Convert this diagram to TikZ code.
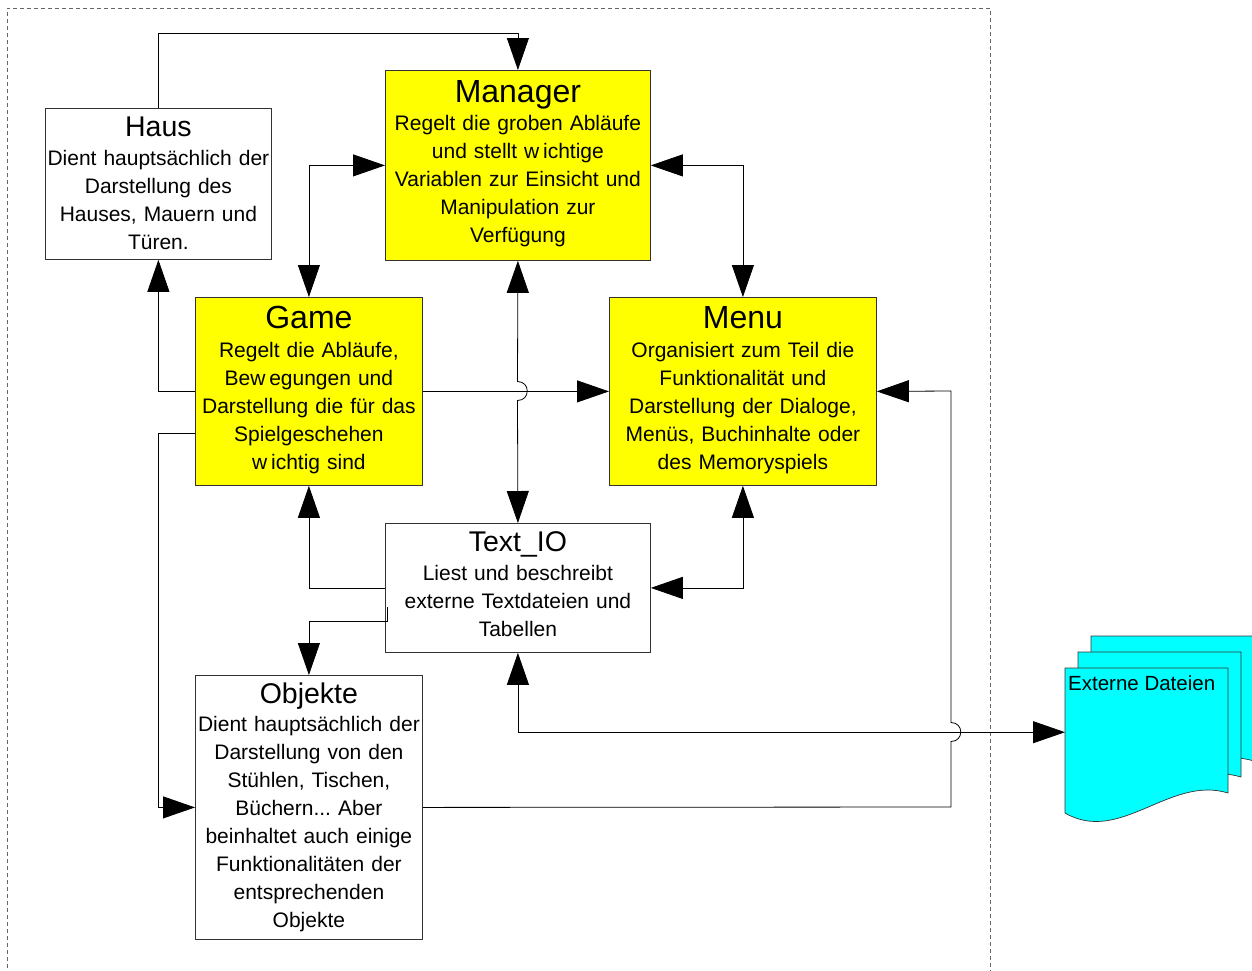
\documentclass[tikz,border=0pt]{standalone}
\usepackage{fontspec}
\setmainfont{Liberation Sans}
\usetikzlibrary{arrows.meta,calc}
\definecolor{boxyellow}{RGB}{255,255,0}
\definecolor{pagecyan}{RGB}{0,255,255}
\begin{document}
\frenchspacing
\begin{tikzpicture}[x=1pt,y=-1pt,
  >={Triangle[length=32pt,width=22pt]},
  boxy/.style={draw=black!80, line width=0.8pt, fill=boxyellow, anchor=north west, inner sep=0pt},
  boxw/.style={draw=black!80, line width=0.8pt, fill=white, anchor=north west, inner sep=0pt},
  ttl/.style={anchor=base, font=\fontsize{32}{34}\selectfont, inner sep=0pt},
  ttls/.style={anchor=base, font=\fontsize{28.5}{30}\selectfont, inner sep=0pt},
  body/.style={anchor=base, font=\fontsize{21}{28}\selectfont, text width=300pt, align=center, inner sep=0pt},
  conn/.style={draw=black, line width=0.8pt},
  page/.style={fill=pagecyan, draw=black!80, line width=0.7pt}]
\useasboundingbox (0,0) rectangle (1252,970);
\clip (0,0) rectangle (1252,970);

% dashed boundary
\draw[draw=black!60, dash pattern=on 4pt off 3pt, line width=0.8pt] (7,975) -- (7,8) -- (990,8) -- (990,975);

% external files (stack of documents)
\foreach \dx/\dy in {26/-32, 13/-16, 0/0}{
  \draw[page, shift={(\dx,\dy)}] (1065,668) -- (1228,668) -- (1228,793)
    .. controls (1170,775) and (1120,845) .. (1065,813) -- cycle;
}
\node[anchor=north west, minimum width=163pt, minimum height=128pt, inner sep=0pt] (ext) at (1065,668) {};
\node[anchor=base west, font=\fontsize{20.5}{24}\selectfont, inner sep=0pt] (extT) at (1068,690) {Externe Dateien};

% boxes
\node[boxy, minimum width=265pt, minimum height=190pt] (manager) at (385,70) {};
\node[boxw, minimum width=226pt, minimum height=151pt] (haus) at (45,108) {};
\node[boxy, minimum width=227pt, minimum height=188pt] (game) at (195,297) {};
\node[boxy, minimum width=267pt, minimum height=188pt] (menu) at (609,297) {};
\node[boxw, minimum width=265pt, minimum height=129pt] (textio) at (385,523) {};
\node[boxw, minimum width=227pt, minimum height=264pt] (objekte) at (195,675) {};

% connectors
\draw[conn,->] (haus.north) -- ++(0,-75) -| (manager.north);
\draw[conn,<->] (game.north) |- (manager.west);
\draw[conn,<->] (manager.east) -| (menu.north);
\draw[conn,<->] (manager.south) -- (517.5,381.5) .. controls (530.5,381.5) and (530.5,400.5) .. (517.5,400.5) -- (textio.north);
\draw[conn,->] (game.east) -- (menu.west);
\draw[conn,->] (game.west) -| (haus.south);
\draw[conn,->] ([yshift=-42pt]game.west) -- ++(-37,0) |- (objekte.west);
\draw[conn,->] (textio.west) -| (game.south);
\draw[conn,<->] (textio.east) -| (menu.south);
\draw[conn,->] ([xshift=2.5pt,yshift=-19.5pt]textio.west) -- ++(0,14) -| (objekte.north);
\draw[conn,<->] (textio.south) |- (ext.west);
\draw[conn,->] (objekte.east) -- (951,807) -- (951,741.5) .. controls (964,741.5) and (964,722.5) .. (951,722.5) -- (951,391) -- (menu.east);

% texts
\node[ttl] (managerT) at ($(manager.north)+(0,32)$) {Manager};
\node[body] (managerB) at ($(manager.north)+(0,60)$) {Regelt die groben Abläufe\\und stellt w\hspace{0.18em}ichtige\\Variablen zur Einsicht und\\Manipulation zur\\Verfügung};

\node[ttls] (hausT) at ($(haus.north)+(0,28)$) {Haus};
\node[body] (hausB) at ($(haus.north)+(0,57)$) {Dient hauptsächlich der\\Darstellung des\\Hauses, Mauern und\\Türen.};

\node[ttl] (gameT) at ($(game.north)+(0,31.5)$) {Game};
\node[body] (gameB) at ($(game.north)+(0,60)$) {Regelt die Abläufe,\\Bew\hspace{0.18em}egungen und\\Darstellung die für das\\Spielgeschehen\\w\hspace{0.18em}ichtig sind};

\node[ttl] (menuT) at ($(menu.north)+(0,31.5)$) {Menu};
\node[body] (menuB) at ($(menu.north)+(0,60)$) {Organisiert zum Teil die\\Funktionalität und\\Darstellung der Dialoge,\\Menüs, Buchinhalte oder\\des Memoryspiels};

\node[ttls] (textioT) at ($(textio.north)+(0,28)$) {Text\_IO};
\node[body] (textioB) at ($(textio.north)+(0,57)$) {Liest und beschreibt\\externe Textdateien und\\Tabellen};

\node[ttls] (objekteT) at ($(objekte.north)+(0,28)$) {Objekte};
\node[body] (objekteB) at ($(objekte.north)+(0,56)$) {Dient hauptsächlich der\\Darstellung von den\\Stühlen, Tischen,\\Büchern... Aber\\beinhaltet auch einige\\Funktionalitäten der\\entsprechenden\\Objekte};
\end{tikzpicture}
\end{document}
